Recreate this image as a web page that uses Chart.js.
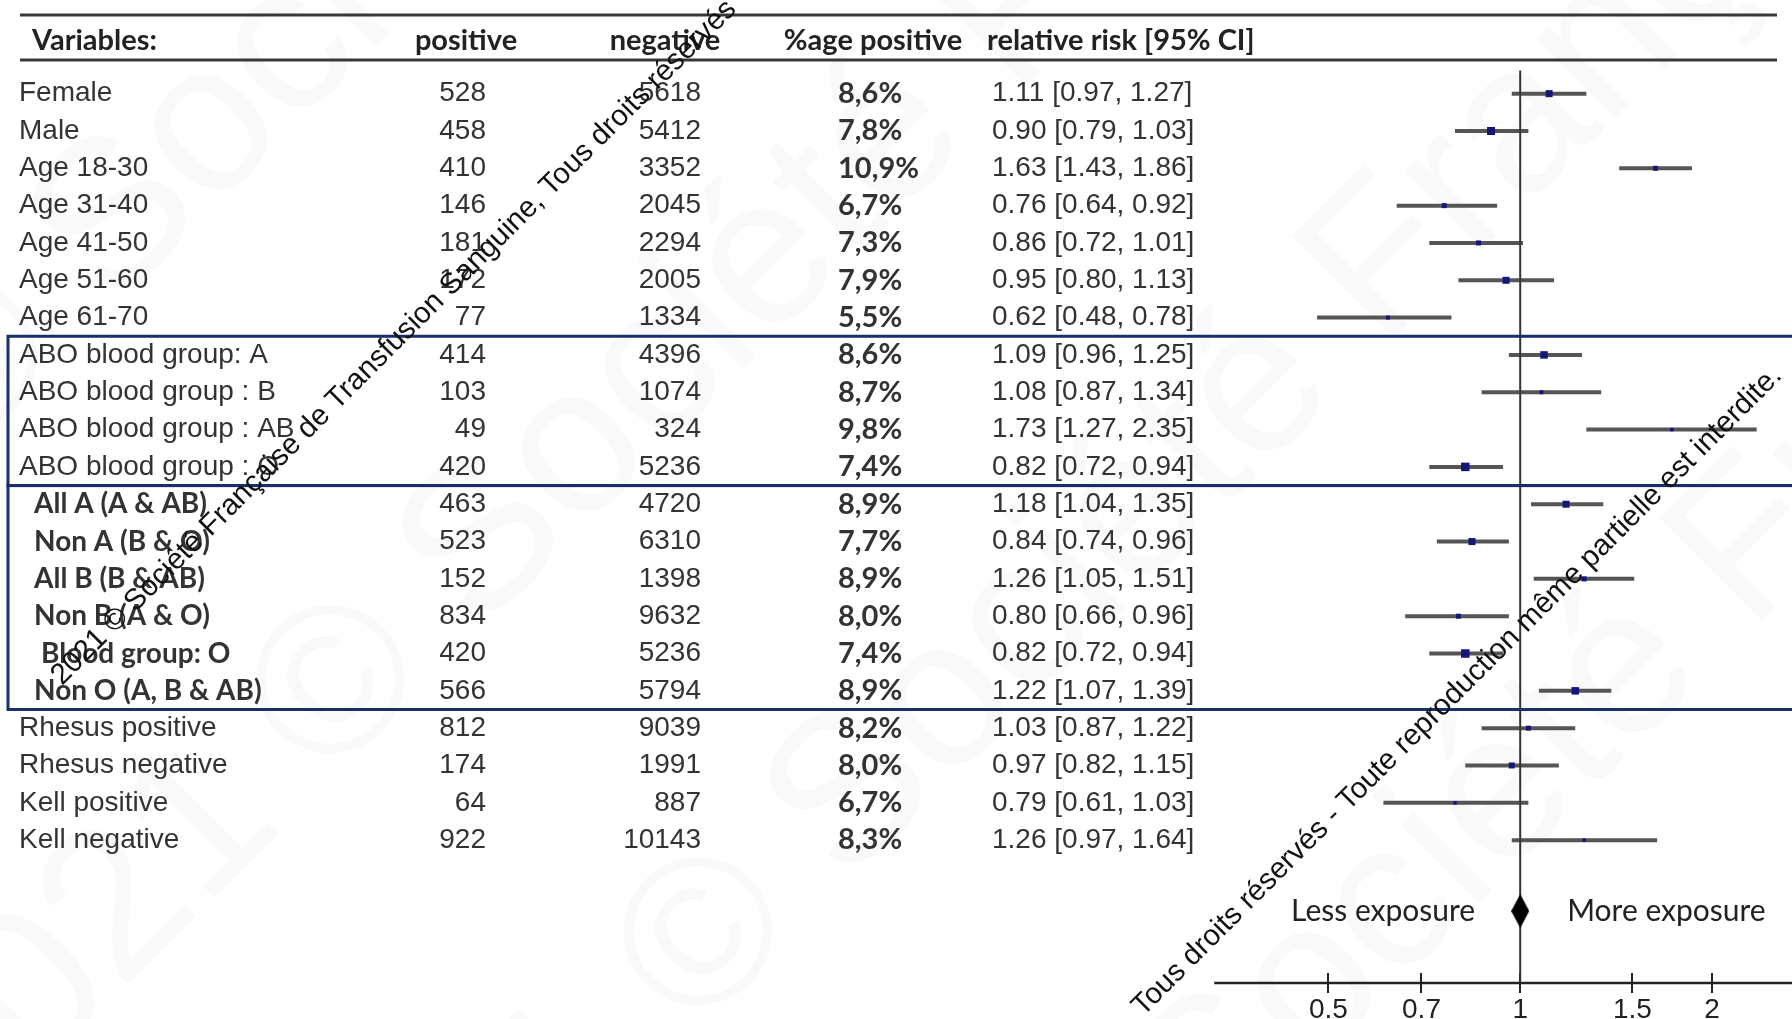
<!DOCTYPE html>
<html>
<head>
<meta charset="utf-8">
<title>Forest plot</title>
<script src="https://cdn.jsdelivr.net/npm/chart.js@4.4.1/dist/chart.umd.min.js"></script>
<style>
  html, body { margin: 0; padding: 0; background: #fff; overflow: hidden; }
  #wrap { width: 1792px; height: 1019px; position: relative; }
</style>
</head>
<body>
<div id="wrap"><canvas id="forest" width="1792" height="1019"></canvas></div>
<script>
// Table data
const variables = [
    'Female', 'Male', 'Age 18-30', 'Age 31-40', 'Age 41-50', 'Age 51-60', 'Age 61-70',
    'ABO blood group: A', 'ABO blood group : B', 'ABO blood group : AB', 'ABO blood group : O',
    'All A (A & AB)', 'Non A (B & O)', 'All B (B & AB)', 'Non B (A & O)', 'Blood group: O', 'Non O (A, B & AB)',
    'Rhesus positive', 'Rhesus negative', 'Kell positive', 'Kell negative'
];
const positives = [528, 458, 410, 146, 181, 172, 77, 414, 103, 49, 420, 463, 523, 152, 834, 420, 566, 812, 174, 64, 922];
const negatives = [5618, 5412, 3352, 2045, 2294, 2005, 1334, 4396, 1074, 324, 5236, 4720, 6310, 1398, 9632, 5236, 5794, 9039, 1991, 887, 10143];
const pctPositive = ['8,6%', '7,8%', '10,9%', '6,7%', '7,3%', '7,9%', '5,5%', '8,6%', '8,7%', '9,8%', '7,4%',
    '8,9%', '7,7%', '8,9%', '8,0%', '7,4%', '8,9%', '8,2%', '8,0%', '6,7%', '8,3%'];
const relRisk = [1.11, 0.90, 1.63, 0.76, 0.86, 0.95, 0.62, 1.09, 1.08, 1.73, 0.82, 1.18, 0.84, 1.26, 0.80, 0.82, 1.22, 1.03, 0.97, 0.79, 1.26];
const ciLow = [0.97, 0.79, 1.43, 0.64, 0.72, 0.80, 0.48, 0.96, 0.87, 1.27, 0.72, 1.04, 0.74, 1.05, 0.66, 0.72, 1.07, 0.87, 0.82, 0.61, 0.97];
const ciHigh = [1.27, 1.03, 1.86, 0.92, 1.01, 1.13, 0.78, 1.25, 1.34, 2.35, 0.94, 1.35, 0.96, 1.51, 0.96, 0.94, 1.39, 1.22, 1.15, 1.03, 1.64];
const xTicks = [0.5, 0.7, 1, 1.5, 2];
const headers = ['Variables:', 'positive', 'negative', '%age positive', 'relative risk [95% CI]'];

// box size of each estimate (square side in px)
const boxSide = [7, 8, 5, 5, 5, 7, 4, 7.5, 4, 3.5, 8.5, 7, 7, 5, 5, 8.5, 7.5, 5, 6, 3.5, 3.5];

const TEXT = '#333';
const NAVY = '#17306b';
const plainFont = '"Liberation Sans", Arial, sans-serif';
const boldFont = 'Lato, "Open Sans", sans-serif';
const yAxisLine = 23.83;   // row units, where the x axis is drawn
const diamondRow = 21.9;

const diamond = document.createElement('canvas');
diamond.width = 18;
diamond.height = 34;
(function() {
    const c = diamond.getContext('2d');
    c.fillStyle = '#000';
    c.beginPath();
    c.moveTo(9, 0); c.lineTo(18, 17); c.lineTo(9, 34); c.lineTo(0, 17);
    c.closePath();
    c.fill();
})();

const ciSets = variables.map((v, i) => ({
    type: 'scatter',
    data: [{ x: ciLow[i], y: i }, { x: ciHigh[i], y: i }],
    showLine: true,
    borderColor: 'rgba(55,55,55,0.85)',
    borderWidth: 4,
    pointRadius: 0,
    order: 3
}));

const tablePlugin = {
    id: 'table',
    beforeDraw(chart) {
        const ctx = chart.ctx;
        // faint background watermark
        ctx.save();
        ctx.fillStyle = 'rgba(0,0,0,0.025)';
        ctx.font = '210px ' + plainFont;
        ctx.textBaseline = 'middle';
        const wm = 'Version 2021 © Société Française de Transfusion Sanguine. Tous droits réservés. Toute reproduction même partielle est interdite. ';
        [340, 1030, 1650, 2300, 2950].forEach((c, k) => {
            ctx.save();
            ctx.translate(0, c);
            ctx.rotate(-Math.PI / 4);
            ctx.fillText(wm + wm, -1400 + k * 520, 0);
            ctx.restore();
        });
        ctx.restore();
    },
    afterDraw(chart) {
        const ctx = chart.ctx;
        const ys = chart.scales.y;
        const xs = chart.scales.x;
        ctx.save();

        // header rules
        ctx.strokeStyle = '#383838';
        ctx.lineWidth = 3;
        ctx.beginPath();
        ctx.moveTo(20, 15); ctx.lineTo(1777, 15);
        ctx.moveTo(20, 60); ctx.lineTo(1777, 60);
        ctx.stroke();

        // header labels
        ctx.fillStyle = '#222';
        ctx.font = 'bold 29px ' + boldFont;
        ctx.textBaseline = 'middle';
        ctx.textAlign = 'left';
        ctx.fillText(headers[0], 32, 41);
        ctx.textAlign = 'center';
        ctx.fillText(headers[1], 466, 41);
        ctx.fillText(headers[2], 665, 41);
        ctx.fillText(headers[3], 873, 41);
        ctx.textAlign = 'left';
        ctx.fillText(headers[4], 987, 41);

        // rows
        variables.forEach((name, i) => {
            const y = ys.getPixelForValue(i);
            const grouped = i >= 11 && i <= 16;
            ctx.fillStyle = TEXT;
            ctx.textAlign = 'left';
            if (grouped) {
                ctx.font = 'bold 28px ' + boldFont;
                ctx.fillText(name, i === 15 ? 41 : 34, y);
            } else {
                ctx.font = '28px ' + plainFont;
                ctx.fillText(name, 19, y);
            }
            ctx.font = '28px ' + plainFont;
            ctx.textAlign = 'right';
            ctx.fillText(String(positives[i]), 486, y);
            ctx.fillText(String(negatives[i]), 701, y);
            ctx.textAlign = 'left';
            ctx.fillText(relRisk[i].toFixed(2) + ' [' + ciLow[i].toFixed(2) + ', ' + ciHigh[i].toFixed(2) + ']', 992, y);
            ctx.font = 'bold 29px ' + boldFont;
            ctx.fillText(pctPositive[i], 838, y);
        });

        // blood group boxes
        ctx.strokeStyle = NAVY;
        ctx.lineWidth = 3;
        const b1 = ys.getPixelForValue(6.5);
        const b2 = ys.getPixelForValue(10.5);
        const b3 = ys.getPixelForValue(16.5);
        ctx.strokeRect(8, b1, 1800, b2 - b1);
        ctx.strokeRect(8, b2, 1800, b3 - b2);

        // exposure labels
        const x1 = xs.getPixelForValue(1);
        const yd = ys.getPixelForValue(diamondRow);
        ctx.fillStyle = '#222';
        ctx.font = '30px ' + boldFont;
        ctx.textAlign = 'right';
        ctx.fillText('Less exposure', x1 - 45, yd);
        ctx.textAlign = 'left';
        ctx.fillText('More exposure', x1 + 47, yd);

        // copyright overlay
        const note = '2021 © Société Française de Transfusion Sanguine, Tous droits réservés - Toute reproduction même partielle est interdite.';
        ctx.fillStyle = '#111';
        ctx.font = '29.5px ' + plainFont;
        ctx.textBaseline = 'alphabetic';
        ctx.save();
        ctx.translate(62, 686);
        ctx.rotate(-Math.PI / 4);
        ctx.textAlign = 'left';
        ctx.fillText(note, 0, 0);
        ctx.restore();
        ctx.save();
        ctx.translate(1783, 377);
        ctx.rotate(-Math.PI / 4);
        ctx.textAlign = 'right';
        ctx.fillText(note, 0, 0);
        ctx.restore();

        ctx.restore();
    }
};

new Chart(document.getElementById('forest'), {
    type: 'scatter',
    data: {
        datasets: [
            ...ciSets,
            {
                data: relRisk.map((r, i) => ({ x: r, y: i })),
                pointStyle: 'rect',
                pointRadius: boxSide.map(s => s / Math.SQRT2),
                backgroundColor: '#15157a',
                borderWidth: 0,
                order: 1
            },
            {
                // line of no effect
                data: [{ x: 1, y: -0.62 }, { x: 1, y: yAxisLine }],
                showLine: true,
                borderColor: '#333',
                borderWidth: 2,
                pointRadius: 0,
                clip: false,
                order: 4
            },
            {
                // x axis line
                data: [{ x: 0.331, y: yAxisLine }, { x: 2.67, y: yAxisLine }],
                showLine: true,
                borderColor: '#222',
                borderWidth: 2.5,
                pointRadius: 0,
                clip: false,
                order: 4
            },
            {
                data: [{ x: 1, y: diamondRow }],
                pointStyle: diamond,
                pointRadius: 17,
                order: 0
            }
        ]
    },
    options: {
        responsive: false,
        animation: false,
        devicePixelRatio: 1,
        layout: { autoPadding: false, padding: { left: 1187, top: 75, right: 0, bottom: 0 } },
        plugins: { legend: { display: false }, tooltip: { enabled: false } },
        scales: {
            x: {
                type: 'logarithmic',
                min: 0.331,
                max: 2.67,
                afterBuildTicks: scale => { scale.ticks = xTicks.map(v => ({ value: v })); },
                afterFit: scale => {
                    scale.height = 46;
                    scale.paddingLeft = 0;
                    scale.paddingRight = 0;
                },
                border: { display: false },
                grid: { drawOnChartArea: false, drawTicks: true, tickLength: 20, color: '#222', lineWidth: 2 },
                ticks: {
                    autoSkip: false,
                    maxRotation: 0,
                    padding: 0,
                    color: '#222',
                    font: { family: plainFont, size: 28 },
                    callback: v => String(v)
                }
            },
            y: {
                type: 'linear',
                reverse: true,
                min: -0.5,
                max: 23.56,
                display: false
            }
        }
    },
    plugins: [tablePlugin]
});
</script>
</body>
</html>
